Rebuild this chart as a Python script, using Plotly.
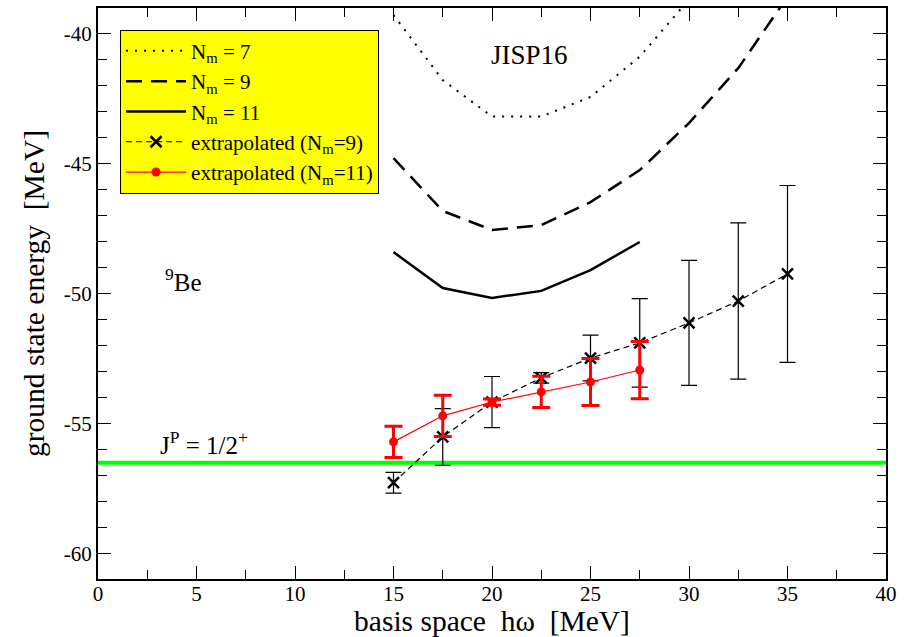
import plotly.graph_objects as go

# basis-space frequencies (MeV)
hw = [15, 17.5, 20, 22.5, 25, 27.5, 30, 32.5, 35]

# NCSM ground-state energies of 9Be with JISP16 (MeV)
e_nm7 = [-39.3, -41.8, -43.2, -43.2, -42.45, -40.9, -38.7]
e_nm9 = [-44.8, -46.83, -47.56, -47.37, -46.49, -45.26, -43.45, -41.34, -38.6]
e_nm11 = [-48.41, -49.79, -50.17, -49.9, -49.1, -48.02]

# extrapolated energies and their uncertainties
ext9 = [-57.27, -55.51, -54.17, -53.24, -52.48, -51.9, -51.13, -50.29, -49.25]
ext9_err = [0.4, 1.09, 0.98, 0.2, 0.88, 1.7, 2.4, 3.0, 3.4]
ext11 = [-55.70, -54.70, -54.17, -53.78, -53.40, -52.94]
ext11_err = [0.6, 0.79, 0.12, 0.6, 0.9, 1.1]

# experimental ground-state energy
e_exp = -56.5

x_ticks = [0, 5, 10, 15, 20, 25, 30, 35, 40]
x_ticklabels = ["0", "5", "10", "15", "20", "25", "30", "35", "40"]
y_ticks = [-60, -55, -50, -45, -40]
y_ticklabels = ["-60", "-55", "-50", "-45", "-40"]

FONT = "Liberation Serif, Times New Roman, serif"

fig = go.Figure()

fig.add_trace(go.Scatter(
    x=hw[:len(e_nm7)], y=e_nm7, mode="lines", name="N<sub>m</sub> = 7",
    line=dict(color="black", width=2, dash="2px,7px"),
))
fig.add_trace(go.Scatter(
    x=hw[:len(e_nm9)], y=e_nm9, mode="lines", name="N<sub>m</sub> = 9",
    line=dict(color="black", width=2.5, dash="16px,9px"),
))
fig.add_trace(go.Scatter(
    x=hw[:len(e_nm11)], y=e_nm11, mode="lines", name="N<sub>m</sub> = 11",
    line=dict(color="black", width=2.5),
))
fig.add_trace(go.Scatter(
    x=[0, 40], y=[e_exp, e_exp], mode="lines", showlegend=False,
    line=dict(color="#00ff00", width=4), hoverinfo="skip",
))
fig.add_trace(go.Scatter(
    x=hw[:len(ext9)], y=ext9, mode="lines+markers",
    name="extrapolated (N<sub>m</sub>=9)",
    line=dict(color="black", width=1.2, dash="6px,4px"),
    marker=dict(symbol="x-thin", size=11, color="black",
                line=dict(color="black", width=2.5)),
    error_y=dict(type="data", array=ext9_err, visible=True,
                 color="black", thickness=1.2, width=8),
))
fig.add_trace(go.Scatter(
    x=hw[:len(ext11)], y=ext11, mode="lines+markers",
    name="extrapolated (N<sub>m</sub>=11)",
    line=dict(color="red", width=1.2),
    marker=dict(symbol="circle", size=9, color="red"),
    error_y=dict(type="data", array=ext11_err, visible=True,
                 color="red", thickness=3, width=9),
))

fig.add_annotation(x=21.9, y=-40.84, text="JISP16", showarrow=False,
                   font=dict(family=FONT, size=27, color="black"))
fig.add_annotation(x=3.3, y=-49.5, text="<sup>9</sup>Be", showarrow=False,
                   xanchor="left", font=dict(family=FONT, size=25, color="black"))
fig.add_annotation(x=3.05, y=-55.74, text="J<sup>P</sup> = 1/2<sup>+</sup>",
                   showarrow=False, xanchor="left",
                   font=dict(family=FONT, size=25, color="black"))

tick_font = dict(family=FONT, size=21, color="black")
axis_common = dict(
    showgrid=False, zeroline=False, showline=True, linecolor="black",
    linewidth=2, mirror="ticks", ticks="inside", ticklen=13, tickwidth=1,
    tickcolor="black", tickfont=tick_font, automargin=False,
)

fig.update_xaxes(
    range=[0, 40], tickvals=x_ticks, ticktext=x_ticklabels,
    ticklabelstandoff=-5,
    minor=dict(dtick=2.5, ticks="inside", ticklen=9, tickcolor="black"),
    title=dict(text="basis space  hω  [MeV]",
               font=dict(family=FONT, size=29.5, color="black"), standoff=0),
    **axis_common,
)
fig.update_yaxes(
    range=[-60.97, -39.03], tickvals=y_ticks, ticktext=y_ticklabels,
    minor=dict(dtick=1, ticks="inside", ticklen=9, tickcolor="black"),
    title=dict(text="ground state energy  [MeV]",
               font=dict(family=FONT, size=29.5, color="black"), standoff=10),
    **axis_common,
)

fig.update_layout(
    width=907, height=637,
    margin=dict(l=98, r=21, t=8, b=58),
    paper_bgcolor="white", plot_bgcolor="white",
    font=dict(family=FONT, color="black"),
    legend=dict(
        x=0.028, y=0.962, xanchor="left", yanchor="top",
        bgcolor="#ffff00", bordercolor="black", borderwidth=1,
        font=dict(family=FONT, size=21, color="black"),
        tracegroupgap=0, itemwidth=60,
    ),
)

fig.write_html("out.html")
